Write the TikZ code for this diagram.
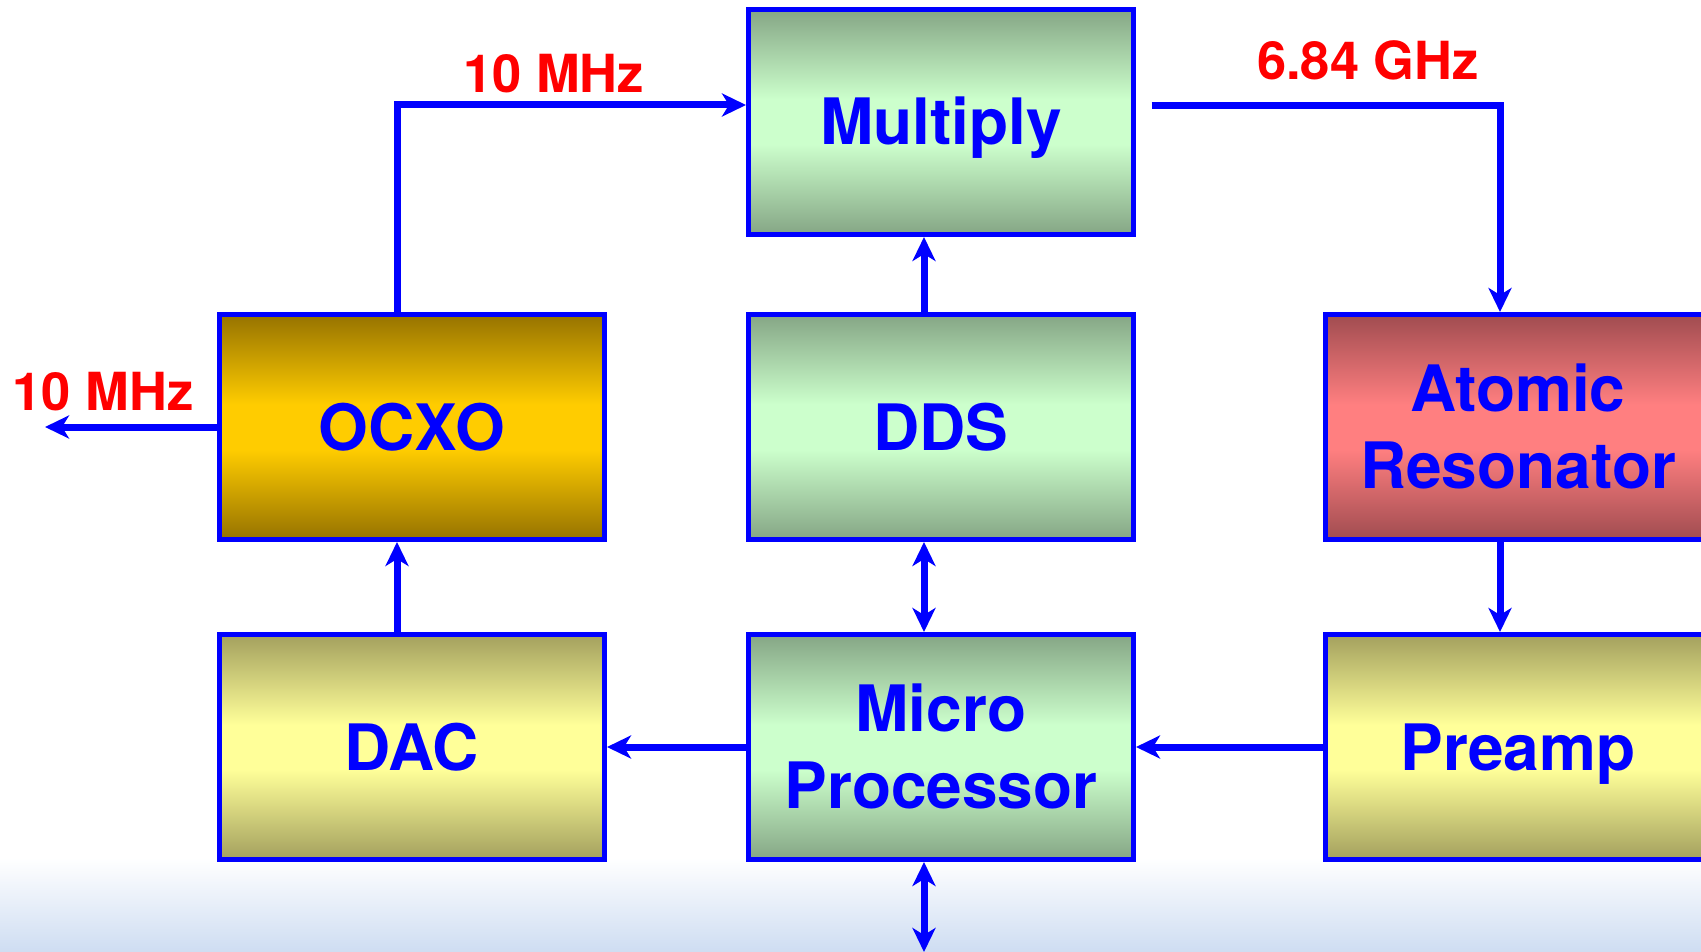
\documentclass[tikz,border=0pt]{standalone}
\usepackage{fontspec}
\setmainfont{TeX Gyre Heros}
\usetikzlibrary{arrows.meta,calc}

\definecolor{wireblue}{RGB}{0,0,255}
\definecolor{labelred}{RGB}{255,0,0}
\definecolor{bgblue}{RGB}{206,221,242}
\definecolor{mintdark}{RGB}{133,165,133}
\definecolor{mintlight}{RGB}{204,255,204}
\definecolor{golddark}{RGB}{150,115,0}
\definecolor{goldlight}{RGB}{255,204,0}
\definecolor{rosedark}{RGB}{160,76,80}
\definecolor{roselight}{RGB}{255,127,128}
\definecolor{lemondark}{RGB}{163,160,94}
\definecolor{lemonlight}{RGB}{255,255,153}

% banded fills: dark at top and bottom, light through the middle
\pgfdeclareverticalshading{mintband}{100bp}{color(0bp)=(mintdark); color(25bp)=(mintdark); color(45bp)=(mintlight); color(55bp)=(mintlight); color(75bp)=(mintdark); color(100bp)=(mintdark)}
\pgfdeclareverticalshading{goldband}{100bp}{color(0bp)=(golddark); color(25bp)=(golddark); color(45bp)=(goldlight); color(55bp)=(goldlight); color(75bp)=(golddark); color(100bp)=(golddark)}
\pgfdeclareverticalshading{roseband}{100bp}{color(0bp)=(rosedark); color(25bp)=(rosedark); color(45bp)=(roselight); color(55bp)=(roselight); color(75bp)=(rosedark); color(100bp)=(rosedark)}
\pgfdeclareverticalshading{lemonband}{100bp}{color(0bp)=(lemondark); color(25bp)=(lemondark); color(45bp)=(lemonlight); color(55bp)=(lemonlight); color(75bp)=(lemondark); color(100bp)=(lemondark)}

\tikzset{
  tip/.tip={Stealth[length=12pt,width=11.5pt,inset=3.5pt]},
  block/.style={draw=wireblue, line width=2.5pt, minimum width=192.5pt,
    minimum height=112.5pt, inner sep=0pt, text=wireblue,
    font=\bfseries\fontsize{32}{38.5}\selectfont, align=center,
    text height=23pt, text depth=0pt},
  twoline/.style={text height=61.5pt, text depth=0pt},
  mintfill/.style={shade, shading=mintband},
  goldfill/.style={shade, shading=goldband},
  rosefill/.style={shade, shading=roseband},
  lemonfill/.style={shade, shading=lemonband},
  wire/.style={draw=wireblue, line width=3.5pt, -tip},
  wirebi/.style={draw=wireblue, line width=3.5pt, tip-tip},
  freq/.style={text=labelred, font=\bfseries\fontsize{26.25}{30}\selectfont,
    anchor=base, inner sep=0pt}
}

\begin{document}
\begin{tikzpicture}[x=0.5pt,y=-0.5pt]
\useasboundingbox (0,0) rectangle (1701,952);
\clip (0,0) rectangle (1701,952);
\fill[white] (0,0) rectangle (1701,952);
\shade[top color=white, bottom color=bgblue] (0,858) rectangle (1701,952);

% blocks
\node[block, mintfill] (mult) at (941,122) {Multiply};
\node[block, mintfill] (dds) at (941,427) {DDS};
\node[block, mintfill, twoline] (micro) at (941,747) {Micro\\Processor};
\node[block, goldfill] (ocxo) at (412,427) {OCXO};
\node[block, lemonfill] (dac) at (412,747) {DAC};
\node[block, rosefill, twoline] (atom) at (1518,427) {Atomic\\Resonator};
\node[block, lemonfill] (pre) at (1518,747) {Preamp};

% free ends
\coordinate (busend) at (924,952);
\coordinate (refout) at (45,426);

% signal paths
\draw[wire] ([xshift=-7.5pt]ocxo.north) |- ([yshift=8.5pt]mult.west);
\draw[wire] ([xshift=-8.5pt]dds.north) -- ([xshift=-8.5pt]mult.south);
\draw[wirebi] ([xshift=-8.5pt]dds.south) -- ([xshift=-8.5pt]micro.north);
\draw[wirebi] ([xshift=-8.5pt]micro.south) -- (busend);
\draw[wire] ([xshift=-7.5pt]dac.north) -- ([xshift=-7.5pt]ocxo.south);
\draw[wire] (micro.west) -- (dac.east);
\draw[wire] (pre.west) -- (micro.east);
\draw[wire] ([xshift=-9pt]atom.south) -- ([xshift=-9pt]pre.north);
\draw[wire] ([xshift=7.75pt,yshift=8pt]mult.east) -| ([xshift=-9pt]atom.north);
\draw[wire] (ocxo.west) -- (refout |- ocxo.west);

% frequency labels
\node[freq] (fin) at (553.5,92.7) {10 MHz};
\node[freq] (fmw) at (1368,80) {6.84 GHz};
\node[freq] (fout) at (103,410) {10 MHz};
\end{tikzpicture}
\end{document}
